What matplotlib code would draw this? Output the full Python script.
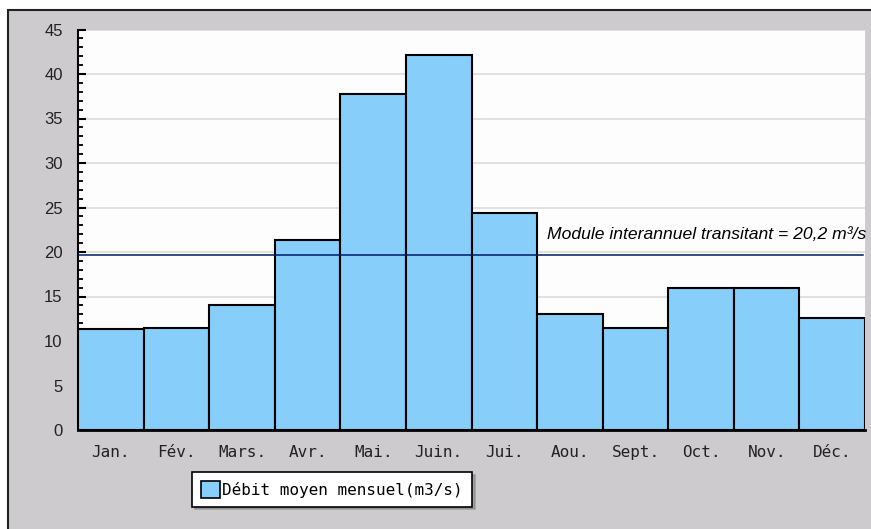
import numpy as np
import matplotlib
matplotlib.use("Agg")
import matplotlib.pyplot as plt
from matplotlib.patches import Rectangle, Patch
from matplotlib.ticker import MultipleLocator

# ── Données ──────────────────────────────────────────────────────────────────
mois = ['Jan.', 'Fév.', 'Mars.', 'Avr.', 'Mai.', 'Juin.', 'Jui.',
        'Aou.', 'Sept.', 'Oct.', 'Nov.', 'Déc.']
debit = [11.35, 11.5, 14.0, 21.3, 37.8, 42.1, 24.4, 13.0, 11.5, 16.0, 16.0, 12.6]
module = 19.7
module_label = 'Module interannuel transitant = 20,2 m³/s'
legend_label = 'Débit moyen mensuel(m3/s)'

# ── Style ────────────────────────────────────────────────────────────────────
fond = '#cdcbce'
bleu = '#87cefa'
mono = 'DejaVu Sans Mono'

fig = plt.figure(figsize=(8.71, 5.29), dpi=100)
fig.patch.set_facecolor('white')

# cadre gris extérieur
W, H = 871, 529
fig.patches.append(Rectangle((8 / W, -0.05), 1.2, (H - 10) / H + 0.05,
                             transform=fig.transFigure, facecolor=fond,
                             edgecolor='#222222', linewidth=1.5, zorder=-10))

ax = fig.add_axes([78 / W, (H - 430) / H, 787 / W, (430 - 29.5) / H])
ax.set_facecolor('#fcfdfc')

x = np.arange(len(mois))
ax.bar(x, debit, width=1.0, color=bleu, edgecolor='black', linewidth=1.5,
       zorder=3)

ax.axhline(module, xmin=0, xmax=0.997, color='#001a66', linewidth=1.1,
           zorder=4)
ax.text(1.002, 22.0, module_label, transform=ax.get_yaxis_transform(),
        ha='right', va='center', style='italic', family='Liberation Sans',
        fontsize=12.6, color='black', clip_on=False, zorder=5)

ax.set_xlim(-0.5, len(mois) - 0.5)
ax.set_ylim(0, 45)
ax.yaxis.set_major_locator(MultipleLocator(5))
ax.yaxis.set_minor_locator(MultipleLocator(1))
ax.grid(axis='y', which='major', color='#dcdcdc', linewidth=1.2, zorder=0)
ax.set_axisbelow(True)

ax.set_xticks(x)
ax.set_xticklabels(mois, family=mono, fontsize=11.5, color='#222222')
ax.tick_params(axis='x', length=0, pad=11)
ax.tick_params(axis='y', which='major', direction='in', length=6,
               width=1.5, pad=11, labelsize=12)
ax.tick_params(axis='y', which='minor', direction='in', length=3.5, width=1.3)
for lab in ax.get_yticklabels():
    lab.set_family('Liberation Sans')
    lab.set_color('#222222')

for s in ['top', 'right']:
    ax.spines[s].set_visible(False)
ax.spines['left'].set_linewidth(1.5)
ax.spines['bottom'].set_linewidth(2.0)

handle = Patch(facecolor=bleu, edgecolor='black', linewidth=1.2)
leg = fig.legend([handle], [legend_label], loc='center',
                 bbox_to_anchor=(332 / W, (H - 489.5) / H),
                 prop={'family': mono, 'size': 11.5},
                 fancybox=False, shadow={'color': '#7a7a7a'},
                 framealpha=1, facecolor='white', edgecolor='black',
                 handlelength=1.2, handleheight=1.2, handletextpad=0.15,
                 borderpad=0.55, borderaxespad=0)
leg.get_frame().set_linewidth(1.2)

fig.savefig('out.png', dpi=100)
